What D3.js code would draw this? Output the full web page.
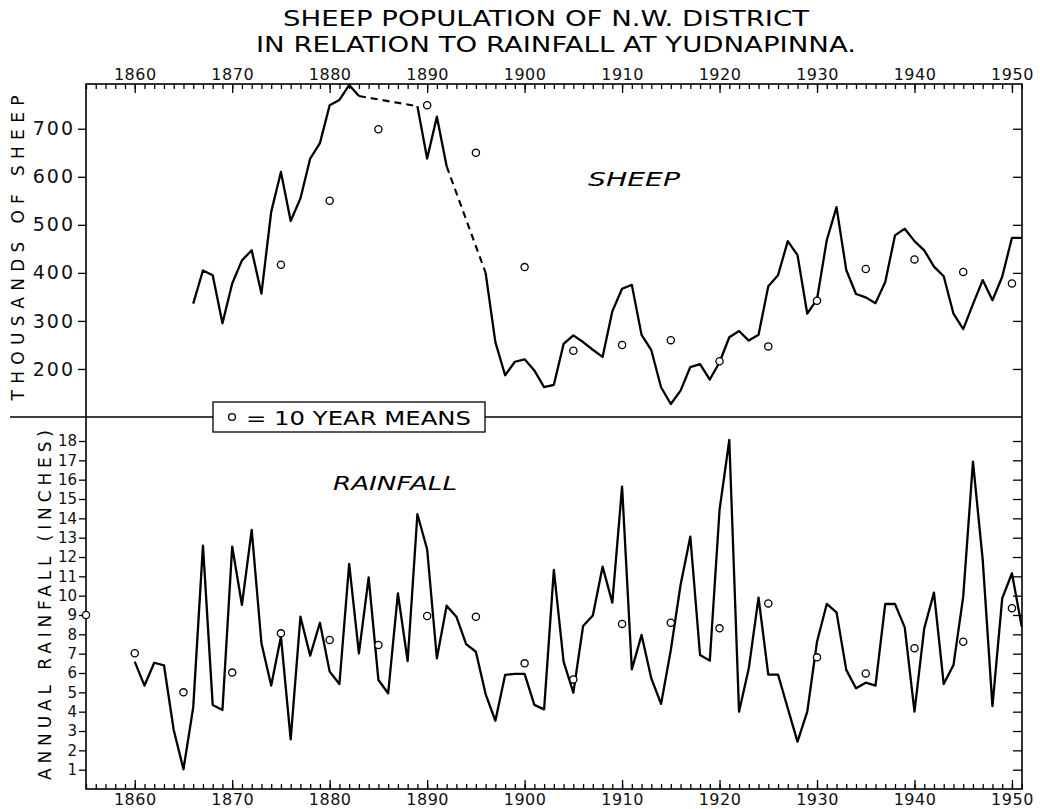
<!DOCTYPE html>
<html>
<head>
<meta charset="utf-8">
<script src="https://cdn.jsdelivr.net/npm/d3@7"></script>
<style>
  body { margin: 0; background: #fff; }
  svg { font-family: "DejaVu Sans", sans-serif; }
  .tick text { font-family: "DejaVu Sans", sans-serif; fill: #111; }
</style>
</head>
<body>
<svg id="chart" width="1040" height="809"></svg>
<script>
// sheep numbers (thousands), null = no count (bridged with a dashed line)
const sheepYears = [1866,1867,1868,1869,1870,1871,1872,1873,1874,1875,1876,1877,1878,1879,1880,
  1881,1882,1883,1884,1885,1886,1887,1888,1889,1890,1891,1892,1893,1894,1895,1896,1897,1898,1899,1900,
  1901,1902,1903,1904,1905,1906,1907,1908,1909,1910,1911,1912,1913,1914,1915,1916,1917,1918,1919,1920,
  1921,1922,1923,1924,1925,1926,1927,1928,1929,1930,1931,1932,1933,1934,1935,1936,1937,1938,1939,1940,
  1941,1942,1943,1944,1945,1946,1947,1948,1949,1950,1951];
const sheepValues = [336,405,395,295,378,426,447,357,527,610,508,555,638,670,749,
  760,791,768,null,null,null,null,null,747,638,725,622,null,null,null,400,256,187,215,220,
  197,162,167,252,270,256,240,225,320,367,375,271,239,162,127,155,204,210,178,214,
  266,279,259,271,372,395,466,437,315,345,468,537,406,356,349,337,381,478,492,466,
  447,413,393,315,283,335,385,343,392,473,473];

const rainYears = [1860,1861,1862,1863,1864,1865,1866,1867,1868,1869,1870,1871,1872,1873,1874,1875,
  1876,1877,1878,1879,1880,1881,1882,1883,1884,1885,1886,1887,1888,1889,1890,1891,1892,1893,1894,1895,
  1896,1897,1898,1899,1900,1901,1902,1903,1904,1905,1906,1907,1908,1909,1910,1911,1912,1913,1914,1915,
  1916,1917,1918,1919,1920,1921,1922,1923,1924,1925,1926,1927,1928,1929,1930,1931,1932,1933,1934,1935,
  1936,1937,1938,1939,1940,1941,1942,1943,1944,1945,1946,1947,1948,1949,1950,1951];
const rainValues = [6.59,5.35,6.53,6.4,3.05,1.02,4.22,12.59,4.35,4.09,12.54,9.52,13.4,7.54,5.35,7.88,
  2.57,8.91,6.9,8.6,6.07,5.43,11.64,7.02,10.95,5.64,4.95,10.12,6.62,14.21,12.4,6.76,9.48,8.91,7.49,7.1,
  4.91,3.53,5.9,5.95,5.95,4.35,4.12,11.33,6.59,4.98,8.43,8.97,11.5,9.64,15.64,6.19,7.97,5.72,4.4,7.19,
  10.55,13.05,6.93,6.64,14.43,18.05,4.0,6.24,9.9,5.92,5.92,4.17,2.45,4.0,7.62,9.57,9.14,6.16,5.21,5.5,
  5.35,9.57,9.57,8.36,4.0,8.31,10.16,5.43,6.41,9.95,16.93,11.85,4.29,9.86,11.16,8.4];

// 10 year means
const sheepMeanYears = [1875,1880,1885,1890,1895,1900,1905,1910,1915,1920,1925,1930,1935,1940,1945,1950];
const sheepMeans = [417,550,699,749,650,412,238,250,260,216,247,342,408,428,402,378];
const rainMeanYears = [1855,1860,1865,1870,1875,1880,1885,1890,1895,1900,1905,1910,1915,1920,1925,1930,1935,1940,1945,1950];
const rainMeans = [9.0,7.02,5.0,6.02,8.05,7.71,7.45,8.95,8.91,6.5,5.67,8.54,8.6,8.31,9.6,6.81,5.98,7.28,7.62,9.35];

const decadeTicks = [1860,1870,1880,1890,1900,1910,1920,1930,1940,1950];
const sheepTicks = [200,300,400,500,600,700];
const rainTicks = [1,2,3,4,5,6,7,8,9,10,11,12,13,14,15,16,17,18];
const yearTicks = d3.range(1855, 1952);

const L = 86, R = 1022, T = 84, B = 789, MID = 417;

const svg = d3.select("#chart");

const x = d3.scaleLinear().domain([1855, 1951]).range([L, R - 0.3]);
const ySheep = d3.scaleLinear().domain([100, 800]).range([MID, 80.7]);
const yRain = d3.scaleLinear().domain([0, 18]).range([B, 441]);

// title
svg.append("text").attr("x", 546).attr("y", 26).attr("text-anchor", "middle")
  .attr("font-size", 21).attr("textLength", 526).attr("lengthAdjust", "spacingAndGlyphs")
  .text("SHEEP POPULATION OF N.W. DISTRICT");
svg.append("text").attr("x", 556).attr("y", 52).attr("text-anchor", "middle")
  .attr("font-size", 21).attr("textLength", 600).attr("lengthAdjust", "spacingAndGlyphs")
  .text("IN RELATION TO RAINFALL AT YUDNAPINNA.");

// frame and divider
svg.append("rect").attr("x", L).attr("y", T).attr("width", R - L).attr("height", B - T)
  .attr("fill", "none").attr("stroke", "#000").attr("stroke-width", 1.6);
svg.append("line").attr("x1", 10).attr("x2", R).attr("y1", MID).attr("y2", MID)
  .attr("stroke", "#000").attr("stroke-width", 1.6);

function styleAxis(g) {
  g.select(".domain").remove();
  g.selectAll("line").attr("stroke", "#000").attr("stroke-width", 1.3);
}

// top axis
svg.append("g").attr("transform", `translate(0,${T})`)
  .call(d3.axisTop(x).tickValues(yearTicks).tickSize(-5).tickFormat(""))
  .call(styleAxis);
svg.append("g").attr("transform", `translate(0,${T})`)
  .call(d3.axisTop(x).tickValues(decadeTicks).tickSize(-9).tickPadding(4).tickFormat(d3.format("d")))
  .call(styleAxis)
  .call(g => g.selectAll("text").attr("font-size", 16).attr("letter-spacing", 0.5));

// bottom axis
svg.append("g").attr("transform", `translate(0,${B})`)
  .call(d3.axisBottom(x).tickValues(yearTicks).tickSize(-5).tickFormat(""))
  .call(styleAxis);
svg.append("g").attr("transform", `translate(0,${B})`)
  .call(d3.axisBottom(x).tickValues(decadeTicks).tickSize(-9).tickPadding(5).tickFormat(d3.format("d")))
  .call(styleAxis)
  .call(g => g.selectAll("text").attr("font-size", 16).attr("letter-spacing", 0.5));

// left / right axes, sheep
svg.append("g").attr("transform", `translate(${L},0)`)
  .call(d3.axisLeft(ySheep).tickValues(sheepTicks).tickSize(8).tickPadding(3))
  .call(styleAxis)
  .call(g => g.selectAll("text").attr("font-size", 19).attr("letter-spacing", 2));
svg.append("g").attr("transform", `translate(${R},0)`)
  .call(d3.axisRight(ySheep).tickValues(sheepTicks).tickSize(-9).tickFormat(""))
  .call(styleAxis);

// left / right axes, rainfall
svg.append("g").attr("transform", `translate(${L},0)`)
  .call(d3.axisLeft(yRain).tickValues(rainTicks).tickSize(7).tickPadding(2))
  .call(styleAxis)
  .call(g => g.selectAll("text").attr("font-size", 15));
svg.append("g").attr("transform", `translate(${R},0)`)
  .call(d3.axisRight(yRain).tickValues(rainTicks).tickSize(-9).tickFormat(""))
  .call(styleAxis);

// axis titles
svg.append("text").attr("transform", "translate(24,248) rotate(-90)").attr("text-anchor", "middle")
  .attr("font-size", 17).attr("textLength", 305).attr("lengthAdjust", "spacing")
  .text("THOUSANDS OF SHEEP");
svg.append("text").attr("transform", "translate(51,605) rotate(-90)").attr("text-anchor", "middle")
  .attr("font-size", 17).attr("textLength", 350).attr("lengthAdjust", "spacing")
  .text("ANNUAL RAINFALL (INCHES)");

// series labels
svg.append("text").attr("x", 588).attr("y", 186).attr("font-size", 19).attr("font-style", "italic")
  .attr("textLength", 92).attr("lengthAdjust", "spacingAndGlyphs").text("SHEEP");
svg.append("text").attr("x", 333).attr("y", 490).attr("font-size", 19).attr("font-style", "italic")
  .attr("textLength", 124).attr("lengthAdjust", "spacingAndGlyphs").text("RAINFALL");

// sheep line, solid where counted, dashed across missing years
const sheep = sheepYears.map((yr, i) => ({ yr, v: sheepValues[i] }));
const line = d3.line().defined(d => d.v != null).x(d => x(d.yr));

svg.append("path").datum(sheep)
  .attr("d", line.y(d => ySheep(d.v)))
  .attr("fill", "none").attr("stroke", "#000").attr("stroke-width", 2.3).attr("stroke-linejoin", "round");

const bridges = [];
sheep.forEach((d, i) => {
  if (d.v == null && i > 0 && sheep[i - 1].v != null) {
    let j = i;
    while (sheep[j].v == null) j++;
    bridges.push([sheep[i - 1], sheep[j]]);
  }
});
svg.append("g").selectAll("path").data(bridges).join("path")
  .attr("d", d3.line().x(d => x(d.yr)).y(d => ySheep(d.v)))
  .attr("fill", "none").attr("stroke", "#000").attr("stroke-width", 2.1)
  .attr("stroke-dasharray", "7,5");

// rainfall line
const rain = rainYears.map((yr, i) => ({ yr, v: rainValues[i] }));
svg.append("path").datum(rain)
  .attr("d", d3.line().x(d => x(d.yr)).y(d => yRain(d.v)))
  .attr("fill", "none").attr("stroke", "#000").attr("stroke-width", 2.3).attr("stroke-linejoin", "round");

// mean circles
function means(years, vals, y) {
  svg.append("g").selectAll("circle").data(years).join("circle")
    .attr("cx", d => x(d)).attr("cy", (d, i) => y(vals[i])).attr("r", 3.6)
    .attr("fill", "#fff").attr("stroke", "#000").attr("stroke-width", 1.3);
}
means(sheepMeanYears, sheepMeans, ySheep);
means(rainMeanYears, rainMeans, yRain);

// legend
const lg = svg.append("g").attr("transform", "translate(213,402)");
lg.append("rect").attr("width", 272).attr("height", 30).attr("fill", "#fff")
  .attr("stroke", "#000").attr("stroke-width", 1.3);
lg.append("circle").attr("cx", 19).attr("cy", 15).attr("r", 3.4)
  .attr("fill", "#fff").attr("stroke", "#000").attr("stroke-width", 1.3);
lg.append("text").attr("x", 33).attr("y", 23).attr("font-size", 19)
  .attr("textLength", 225).attr("lengthAdjust", "spacingAndGlyphs")
  .text("= 10 YEAR MEANS");
</script>
</body>
</html>
